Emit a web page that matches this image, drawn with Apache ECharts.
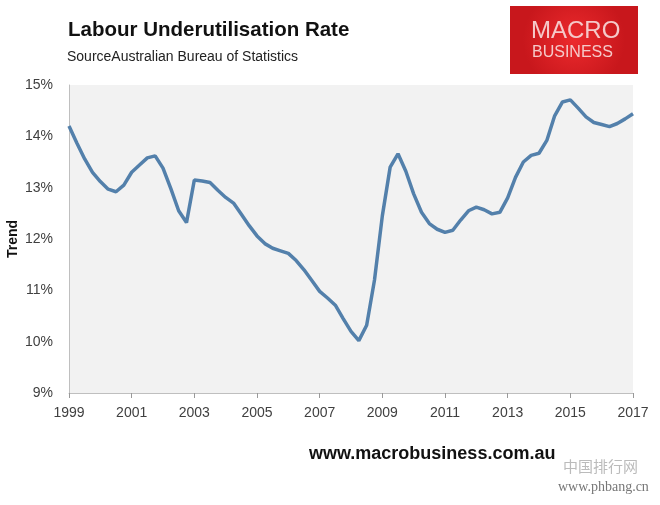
<!DOCTYPE html>
<html>
<head>
<meta charset="utf-8">
<script src="https://cdn.jsdelivr.net/npm/echarts@6/dist/echarts.min.js"></script>
<style>
html,body{margin:0;padding:0;background:#fff;}
#chart{width:660px;height:505px;}
</style>
</head>
<body>
<div id="chart"></div>
<script>
// Quarterly labour underutilisation rate (%), 1999 Q1 .. 2017 Q1
const startYear = 1999;
const rateValues = [
  14.20, 13.87, 13.56, 13.30, 13.12, 12.97, 12.92, 13.05,
  13.30, 13.44, 13.58, 13.62, 13.38, 12.98, 12.55, 12.32,
  13.15, 13.13, 13.10, 12.95, 12.81, 12.70, 12.48, 12.26,
  12.06, 11.91, 11.82, 11.77, 11.72, 11.58, 11.40, 11.19,
  10.98, 10.85, 10.71, 10.45, 10.20, 10.02, 10.32, 11.20,
  12.45, 13.40, 13.66, 13.32, 12.88, 12.52, 12.30, 12.19,
  12.13, 12.17, 12.37, 12.55, 12.62, 12.57, 12.49, 12.52,
  12.80, 13.20, 13.50, 13.63, 13.67, 13.92, 14.40, 14.67,
  14.71, 14.55, 14.38, 14.27, 14.23, 14.19, 14.25, 14.34,
  14.44
];
const quarterLabels = rateValues.map((v, i) =>
  (startYear + Math.floor(i / 4)) + '-Q' + (i % 4 + 1));
const yTicks = { min: 9, max: 15, interval: 1 };

const sans = "'Liberation Sans', Arial, sans-serif";
const chart = echarts.init(document.getElementById('chart'), null, { renderer: 'canvas' });
chart.setOption({
  backgroundColor: '#ffffff',
  animation: false,
  title: [
    { text: 'Labour Underutilisation Rate', left: 63, top: 15,
      textStyle: { fontFamily: sans, fontSize: 20.5, fontWeight: 'bold', color: '#111' } },
    { text: 'SourceAustralian Bureau of Statistics', left: 62, top: 45,
      textStyle: { fontFamily: sans, fontSize: 14, fontWeight: 'normal', color: '#222' } },
    { text: 'www.macrobusiness.com.au', left: 304, top: 440,
      textStyle: { fontFamily: sans, fontSize: 18, fontWeight: 'bold', color: '#111' } }
  ],
  graphic: [
    { type: 'rect', left: 510, top: 6, shape: { width: 128, height: 68 },
      style: { fill: new echarts.graphic.RadialGradient(0.5, 0.5, 0.75, [
        { offset: 0, color: '#ec2a2d' }, { offset: 1, color: '#c8171c' }]) } },
    { type: 'text', left: 531, top: 19,
      style: { text: 'MACRO', fill: '#f5c9c9', font: "24px " + sans } },
    { type: 'text', left: 532, top: 45,
      style: { text: 'BUSINESS', fill: '#f5c9c9', font: "16px " + sans } },
    { type: 'text', left: 558, top: 480,
      style: { text: 'www.phbang.cn', fill: '#777', font: "14px 'Liberation Serif', serif" } },
    { type: 'text', left: 563, top: 459,
      style: { text: '中国排行网', fill: '#bbb', font: "15px 'Noto Sans CJK SC', sans-serif" } }
  ],
  grid: { left: 69, right: 27, top: 85, bottom: 112, show: true,
    backgroundColor: '#f2f2f2', borderWidth: 0,
    containLabel: false, outerBoundsMode: 'none' },
  xAxis: {
    type: 'category', data: quarterLabels, boundaryGap: false,
    axisLine: { lineStyle: { color: '#bfbfbf', width: 1 } },
    axisTick: { interval: 7, length: 5, lineStyle: { color: '#999' } },
    axisLabel: { interval: 7, formatter: v => v.slice(0, 4), margin: 13,
      fontFamily: sans, fontSize: 14, color: '#404040' },
    splitLine: { show: false }
  },
  yAxis: {
    type: 'value', min: yTicks.min, max: yTicks.max, interval: yTicks.interval,
    name: 'Trend', nameLocation: 'middle', nameRotate: 90, nameGap: 49,
    nameMoveOverlap: false,
    nameTextStyle: { fontFamily: sans, fontSize: 14, fontWeight: 'bold', color: '#111' },
    axisLine: { show: true, lineStyle: { color: '#bfbfbf', width: 1 } },
    axisTick: { show: false },
    axisLabel: { formatter: '{value}%', margin: 16, fontFamily: sans, fontSize: 14, color: '#404040' },
    splitLine: { show: false }
  },
  series: [{
    type: 'line', data: rateValues, showSymbol: false, smooth: false,
    lineStyle: { color: '#5380ab', width: 3.5 }
  }]
});
</script>
</body>
</html>
